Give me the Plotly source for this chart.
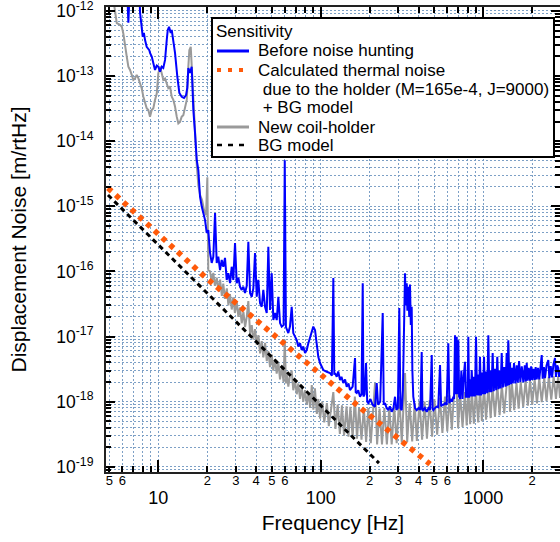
import plotly.graph_objects as go

# ---- measured spectra (read off the reference plot) ----
# "Before noise hunting" (blue)
blue_freq = [4.9, 6.4, 6.54, 6.7, 7.6, 7.72, 8.02, 8.15, 8.28, 8.48, 8.8, 8.89, 9.11, 9.32, 9.54, 9.78,
             10.0, 10.24, 10.49, 10.73, 11.0, 11.27, 11.43, 11.64, 11.92, 12.09, 12.37, 12.67, 13.09, 13.47,
             13.93, 14.39, 14.81, 15.08, 15.3, 15.67, 16.05, 16.43, 16.82, 17.24, 17.63, 18.06, 18.5, 18.92,
             19.38, 19.85, 20.3, 20.81, 21.31, 21.8, 22.34, 22.87, 23.4, 23.97, 24.56, 25.12, 25.73, 26.36,
             26.97, 27.63, 28.29, 28.94, 29.65, 30.37, 31.1, 31.84, 32.61, 33.36, 34.17, 35.0, 35.81, 36.68,
             37.57, 38.43, 39.37, 40.33, 41.25, 42.25, 43.28, 44.28, 45.37, 46.47, 47.54, 48.7, 49.88, 51.03,
             52.28, 53.55, 54.79, 56.12, 57.47, 59.0, 60.0, 61.0, 61.7, 63.1, 64.6, 66.2, 67.7, 69.4, 71.1,
             72.7, 74.5, 76.3, 78.0, 80.0, 81.9, 83.8, 85.8, 87.9, 89.9, 92.1, 94.4, 96.5, 98.9, 103.6, 108.7,
             113.9, 117.0, 119.4, 121.0, 122.3, 125.3, 128.0, 131.3, 134.0, 137.6, 141.0, 144.3, 148.0, 151.2,
             157.0, 162.4, 164.0, 166.4, 170.0, 174.3, 178.0, 181.1, 183.0, 186.0, 189.8, 193.0, 196.0, 202.0,
             208.0, 215.6, 220.8, 225.0, 232.0, 240.4, 244.0, 248.4, 254.0, 260.3, 266.0, 273.2, 280.0, 286.2,
             292.0, 298.0, 304.1, 309.0, 314.7, 320.0, 329.8, 333.0, 337.8, 341.0, 345.5, 350.0, 353.9, 358.0,
             362.5, 366.0, 370.8, 380.0, 389.1, 400.0, 410.0, 417.8, 422.0, 427.4, 437.0, 448.5, 460.0, 470.0,
             481.6, 487.0, 492.6, 505.0, 516.8, 528.0, 541.5, 550.0, 560.0, 570.0, 581.2, 595.0, 609.0, 618.0,
             630.0, 642.0, 653.9, 661.0, 669.8, 678.0, 686.0, 694.0, 702.0, 710.0, 720.0, 733.0, 745.0, 758.0,
             771.7, 781.0, 790.0, 800.0, 808.7, 818.0, 828.0, 838.0, 848.6, 862.0, 875.0, 888.0, 902.0, 915.0,
             928.0, 941.0, 954.0, 968.0, 982.0, 996.0, 1010.0, 1025.0, 1040.0, 1057.0, 1074.0, 1090.0, 1105.0,
             1122.0, 1142.0, 1160.0, 1180.0, 1200.0, 1219.0, 1240.0, 1258.0, 1278.0, 1298.0, 1320.0, 1345.0,
             1370.0, 1393.0, 1410.0, 1425.0, 1442.0, 1460.0, 1480.0, 1500.0, 1520.0, 1545.0, 1575.0, 1605.0,
             1630.0, 1660.0, 1690.0, 1725.0, 1763.0, 1800.0, 1825.0, 1850.0, 1875.0, 1905.0, 1939.0, 1970.0,
             2000.0, 2035.0, 2070.0, 2100.0, 2132.0, 2170.0, 2210.0, 2250.0, 2288.0, 2320.0, 2360.0, 2397.0,
             2450.0, 2512.0, 2550.0, 2600.0, 2650.0, 2700.0, 2762.0, 2800.0, 2850.0, 2894.0, 2930.0, 2965.0]
blue_asd = [3e-12, 3e-12, 6.6e-13, 3e-12, 3e-12, 9.4e-13, 4.0e-13, 4.6e-13, 3.6e-13, 2.8e-13, 2.5e-13, 2.26e-13,
            1.99e-13, 1.48e-13, 1.24e-13, 1.45e-13,
            1.39e-13, 1.17e-13, 1.39e-13, 1.33e-13, 1.77e-13, 3.6e-13, 5.1e-13, 5.7e-13, 4.6e-13, 5.1e-13,
            3.4e-13, 2.26e-13, 9.8e-14, 5.5e-14,
            4.8e-14, 4.6e-14, 5.1e-14, 6.6e-14, 1.33e-13, 1.12e-13, 1.39e-13, 3.0e-14, 1.34e-14, 5.1e-15,
            3.6e-15, 1.4e-15, 9.9e-16, 7.9e-16,
            6.2e-16, 3.9e-16, 4.3e-16, 1.92e-16, 1.35e-16, 1.68e-16, 7.9e-16, 1.35e-16, 1.68e-16, 1.05e-16,
            1.5e-16, 1.18e-16, 1.61e-16, 7.4e-17,
            9.4e-17, 6.6e-17, 1.18e-16, 7.4e-17, 2.73e-16, 6.6e-17, 8.0e-17, 5.8e-17, 5.2e-17, 5.8e-17,
            4.66e-17, 6.0e-17, 2.86e-16, 4.66e-17,
            4.08e-17, 5.5e-17, 1.92e-16, 4.08e-17, 7.4e-17, 3.27e-17, 2.87e-17, 5.2e-17, 2.87e-17, 2.3e-17,
            2.39e-16, 2.55e-17, 9.4e-17, 1.79e-17,
            2.3e-17, 1.79e-17, 4.08e-17, 1.61e-17, 1.42e-17, 1.5e-17, 5.1e-15, 1.4e-17, 1.26e-17, 1.13e-17,
            1.42e-17, 2.87e-17, 1.13e-17, 9.9e-18, 8.8e-18,
            7.0e-18, 7.9e-18, 6.2e-18, 7.0e-18, 5.6e-18, 6.2e-18, 7.9e-18, 9.9e-18, 1.26e-17, 1.42e-17,
            1.26e-17, 7.9e-18, 4.9e-18, 3.92e-18, 3.06e-18, 2.88e-18,
            2.75e-18, 2.5e-18, 7.9e-17, 2.6e-18, 2.75e-18, 2.41e-18, 2.9e-18, 2.15e-18, 2.4e-18, 1.93e-18,
            2.2e-18, 1.69e-18, 1.9e-18, 1.51e-18,
            1.7e-18, 4.68e-18, 1.4e-18, 1.36e-18, 1.5e-18, 1.19e-18, 1.3e-18, 6.6e-17, 1.2e-18, 1.3e-18,
            3.92e-18, 1.0e-18, 9.5e-19, 1.1e-18,
            9.0e-19, 8.4e-19, 1.93e-18, 9.0e-19, 1.0e-18, 2.3e-17, 9.0e-19, 9.5e-19, 8.0e-19, 7.4e-19, 8.5e-19,
            7.0e-19, 8.0e-19, 1.19e-18,
            7.5e-19, 8.0e-19, 2.74e-17, 8.0e-19, 7.4e-19, 1.5e-18, 9.4e-17, 3.0e-17, 6.6e-17, 2.5e-17, 5.8e-17,
            2.0e-17, 6.3e-17, 1.5e-17,
            2.87e-17, 3.0e-18, 1.19e-18, 8.0e-19, 7.4e-19, 8.0e-19, 7.5e-19, 5.8e-18, 7.5e-19, 7.4e-19, 8.0e-19,
            7.0e-19, 8.0e-19, 7.5e-19,
            5.2e-18, 7.8e-19, 7.4e-19, 8.0e-19, 8.4e-19, 8.2e-19, 3.65e-18, 8.5e-19, 9.0e-19, 9.0e-19, 9.5e-19,
            9.0e-19, 7.9e-18, 9.5e-19,
            1.1e-18, 1.0e-18, 1.19e-18, 1.1e-18, 1.05e-17, 1.3e-18, 9.9e-18, 1.3e-18, 8.8e-18, 1.2e-18, 1.1e-18,
            3.0e-18, 1.1e-18, 2.5e-18,
            4.1e-18, 1.15e-18, 1.5e-18, 1.15e-18, 9.9e-18, 1.15e-18, 2.2e-18, 1.2e-18, 3.06e-18, 1.2e-18,
            2.4e-18, 1.2e-18, 9.9e-18, 1.25e-18,
            2.6e-18, 1.25e-18, 4.9e-18, 1.25e-18, 2.8e-18, 1.3e-18, 4.9e-18, 1.3e-18, 2.9e-18, 1.35e-18,
            1.05e-17, 1.4e-18, 3.0e-18,
            1.4e-18, 5.6e-18, 1.45e-18, 3.2e-18, 1.5e-18, 4.9e-18, 1.55e-18, 3.0e-18, 1.6e-18, 5.6e-18, 1.65e-18,
            3.4e-18,
            1.7e-18, 5.6e-18, 1.75e-18, 8.8e-18, 1.8e-18, 4.0e-18, 1.85e-18, 3.3e-18, 1.9e-18, 3.9e-18, 1.9e-18,
            3.6e-18,
            1.95e-18, 4.2e-18, 2.0e-18, 3.5e-18, 2.0e-18, 3.6e-18, 2.05e-18, 3.92e-18, 2.1e-18, 3.3e-18, 2.1e-18,
            3.5e-18,
            2.15e-18, 3.2e-18, 2.15e-18, 3.4e-18, 2.2e-18, 3.3e-18, 2.2e-18, 3.4e-18, 5.2e-18, 2.25e-18, 3.4e-18,
            2.3e-18,
            3.6e-18, 4.35e-18, 2.3e-18, 3.5e-18, 2.35e-18, 3.7e-18, 4.68e-18, 2.4e-18, 3.6e-18, 3.28e-18, 2.4e-18,
            3.06e-18]

# "New coil-holder" (gray)
gray_freq = [5.2, 5.41, 5.55, 5.81, 5.96, 6.09, 6.24, 6.39, 6.54, 6.70, 6.86, 7.02, 7.19, 7.36, 7.53, 7.72,
             7.90, 8.09, 8.28, 8.48, 8.68, 8.89, 9.11, 9.32, 9.54, 9.78, 10.0, 10.24, 10.49, 10.73, 11.0, 11.27,
             11.52, 11.8, 12.09, 12.37, 12.67, 12.98, 13.28, 13.6, 13.93, 14.25, 14.6, 14.96, 15.3, 15.52, 15.83,
             16.05, 16.43, 16.82, 17.24, 17.63, 18.06, 18.58, 19.1, 19.66, 20.03, 20.3,
             20.81, 21.3, 21.8, 22.3, 22.9, 23.4, 24.0, 24.6, 25.1, 25.7, 26.4, 27.0, 27.6, 28.3, 28.9, 29.6,
             30.4, 31.1, 31.8, 32.6, 33.4, 34.2, 35.0, 35.8, 36.7, 37.6, 38.4, 39.4, 40.3, 41.3, 42.3, 43.3,
             44.3, 45.4, 46.5, 47.5, 48.7, 49.9, 51.0, 52.3, 53.5, 54.8, 56.1, 57.5, 59.0, 60.0, 61.0, 61.7,
             63.1, 64.6, 66.2, 67.7, 69.4, 71.1, 72.7, 74.5, 76.3, 78.0, 80.0, 82.0, 84.0, 86.0, 88.0, 90.0,
             92.0, 94.5, 96.5, 99.0, 102.0, 105.0, 109.0, 112.0, 116.0, 119.4, 123.0, 127.0, 131.0, 135.0,
             139.0, 144.0, 148.0, 152.0, 157.0, 162.0, 167.0, 172.0, 178.0, 184.0, 190.0, 196.0, 203.0, 210.0,
             215.6, 222.0, 230.0, 238.0, 246.0, 255.0, 264.0, 273.0, 283.0, 293.0, 304.0, 315.0, 330.0, 340.0,
             352.0, 365.0, 378.0, 390.0, 405.0, 420.0, 435.0, 450.0, 467.0, 484.0, 500.0, 520.0, 541.0, 560.0,
             581.0, 600.0, 620.0, 640.0, 660.0, 686.0, 700.0, 720.0, 745.0, 771.0, 790.0, 810.0, 830.0, 850.0,
             875.0, 900.0, 930.0, 955.0, 980.0, 1010.0, 1040.0, 1075.0, 1110.0, 1140.0, 1180.0, 1220.0, 1260.0,
             1300.0, 1345.0, 1393.0, 1425.0, 1460.0, 1500.0, 1550.0, 1600.0, 1650.0, 1700.0, 1760.0, 1820.0,
             1880.0, 1940.0, 2000.0, 2070.0, 2140.0, 2210.0, 2290.0, 2370.0, 2450.0, 2530.0, 2620.0, 2710.0,
             2800.0, 2890.0, 2965.0]
gray_asd = [2e-12, 9.4e-13, 6.5e-13, 6.1e-13, 5.7e-13, 4.5e-13, 3.2e-13, 2.0e-13, 1.39e-13, 1.24e-13, 1.04e-13,
            8.7e-14, 9.2e-14, 1.04e-13, 9.3e-14, 7.7e-14,
            6.5e-14, 4.8e-14, 3.8e-14, 3.2e-14, 3.0e-14, 2.38e-14, 3.0e-14, 3.2e-14, 4.3e-14, 5.4e-14, 1.10e-13,
            1.39e-13, 1.10e-13, 8.7e-14, 9.2e-14, 7.7e-14,
            6.5e-14, 6.9e-14, 4.8e-14, 4.3e-14, 3.4e-14, 2.38e-14, 1.88e-14, 1.98e-14, 2.38e-14, 2.5e-14, 3.4e-14,
            4.3e-14, 1.39e-13, 2.5e-13, 2.8e-13,
            1.39e-13, 3.0e-14, 1.04e-14, 4.3e-15, 2.1e-15, 1.5e-15, 1.25e-15, 8.8e-16, 7.3e-16, 2.8e-15, 1.05e-16,
            1.0e-16, 7.0e-17, 9.5e-17, 6.0e-17, 8.0e-17, 5.0e-17, 7.5e-17, 4.2e-17, 6.5e-17, 3.8e-17, 5.5e-17,
            3.0e-17, 4.5e-17, 2.6e-17, 4.0e-17, 2.3e-17,
            3.4e-17, 2.0e-17, 2.8e-17, 1.6e-17, 2.4e-17, 1.4e-17, 2.0e-17, 3.5e-17, 1.1e-17, 1.5e-17, 9.0e-18,
            1.3e-17, 7.5e-18, 1.05e-17, 5.5e-18, 8.5e-18,
            4.8e-18, 8.0e-18, 4.2e-18, 6.0e-18, 3.4e-18, 5.3e-18, 3.0e-18, 4.5e-18, 2.7e-18, 4.0e-18, 2.2e-18,
            3.4e-18, 2.0e-18, 9.0e-18, 1.9e-18, 2.8e-18,
            1.7e-18, 2.5e-18, 3.0e-18, 1.5e-18, 2.1e-18, 1.3e-18, 1.9e-18, 1.1e-18, 1.7e-18, 1.0e-18, 1.5e-18,
            9.0e-19, 1.4e-18, 8.0e-19, 1.8e-18, 7.5e-19,
            1.6e-18, 6.5e-19, 1.1e-18, 5.5e-19, 1.0e-18, 4.8e-19, 9.5e-19, 4.2e-19, 9.0e-19, 1.4e-18, 3.8e-19,
            9.0e-19, 3.2e-19, 8.8e-19,
            3.0e-19, 8.5e-19, 2.9e-19, 8.3e-19, 2.8e-19, 1.2e-18, 2.7e-19, 8.0e-19, 2.6e-19, 8.0e-19, 2.4e-19,
            8.0e-19, 2.3e-19, 7.8e-19,
            1.93e-18, 2.2e-19, 7.8e-19, 2.2e-19, 8.0e-19, 2.2e-19, 8.2e-19, 2.2e-19, 8.5e-19, 2.3e-19, 1.2e-18,
            2.35e-19, 2.75e-18, 2.4e-19,
            9.5e-19, 2.45e-19, 9.5e-19, 2.5e-19, 1.0e-18, 2.6e-19, 1.0e-18, 2.7e-19, 1.05e-18, 2.9e-19, 1.1e-18,
            3.1e-19, 1.15e-18, 3.3e-19,
            1.2e-18, 3.5e-19, 1.25e-18, 3.7e-19, 1.3e-18, 1.51e-18, 3.9e-19, 1.35e-18, 4.1e-19, 1.4e-18, 4.3e-19,
            1.45e-18, 4.5e-19, 1.5e-18,
            4.6e-19, 1.55e-18, 4.8e-19, 1.6e-18, 5.0e-19, 1.65e-18, 5.3e-19, 1.7e-18, 5.6e-19, 1.75e-18, 5.9e-19,
            1.78e-18, 6.2e-19,
            1.8e-18, 6.6e-19, 1.85e-18, 7.9e-18, 7.0e-19, 1.9e-18, 7.4e-19, 1.95e-18, 7.8e-19, 2.0e-18, 8.3e-19,
            2.1e-18,
            8.7e-19, 2.15e-18, 9.0e-19, 2.2e-18, 9.4e-19, 2.3e-18, 9.8e-19, 2.35e-18, 1.02e-18, 2.4e-18, 1.07e-18,
            2.45e-18,
            1.1e-18, 2.47e-18, 1.14e-18]

# calculated thermal noise of the holder + BG model (orange dotted)
thermal_freq = [4.9, 19.4, 74.5, 182.0, 470.0]
thermal_asd = [1.91e-15, 8.2e-17, 4.84e-18, 7.43e-19, 1.10e-19]

# BG model (black dashed)
bg_freq = [4.9, 228.0]
bg_asd = [1.49e-15, 1.14e-19]

# axis labelling
x_digit_vals = [5, 6, 20, 30, 40, 50, 60, 200, 300, 400, 500, 600, 2000, 3000]
x_digit_text = ["5", "6", "2", "3", "4", "5", "6", "2", "3", "4", "5", "6", "2", "3"]
x_decade_vals = [10, 100, 1000]
x_decade_text = ["10", "100", "1000"]
y_decade_vals = [1e-19, 1e-18, 1e-17, 1e-16, 1e-15, 1e-14, 1e-13, 1e-12]
y_decade_text = ["10<sup>-19</sup>", "10<sup>-18</sup>", "10<sup>-17</sup>", "10<sup>-16</sup>",
                 "10<sup>-15</sup>", "10<sup>-14</sup>", "10<sup>-13</sup>", "10<sup>-12</sup>"]

legend_title = "Sensitivity"
legend_labels = ["Before noise hunting",
                 "Calculated thermal noise",
                 "\u00a0due to the holder (M=165e-4, J=9000)",
                 "\u00a0+ BG model",
                 "New coil-holder",
                 "BG model"]

x_range = [0.678, 3.472]
y_range = [-19.08, -11.94]

x_minor = [k * 10 ** d for d in range(0, 4) for k in range(1, 10) if 4.8 <= k * 10 ** d <= 2965]
y_minor = [k * 10.0 ** e for e in range(-20, -11) for k in range(2, 10) if 8e-20 < k * 10.0 ** e < 1.2e-12]

grid_col = "rgb(125,160,198)"
frame_col = "#222222"
font_family = "Liberation Sans, Arial, sans-serif"
blue_col = "#0000ff"
gray_col = "#9a9a9a"
orange_col = "#ff5a0a"

fig = go.Figure()

fig.add_trace(go.Scatter(x=gray_freq, y=gray_asd, mode="lines",
                         line=dict(color=gray_col, width=2), name="New coil-holder"))
fig.add_trace(go.Scatter(x=blue_freq, y=blue_asd, mode="lines",
                         line=dict(color=blue_col, width=2), name="Before noise hunting"))
fig.add_trace(go.Scatter(x=bg_freq, y=bg_asd, mode="lines", xaxis="x2",
                         line=dict(color="black", width=3, dash="5px,4px"), name="BG model"))
fig.add_trace(go.Scatter(x=thermal_freq, y=thermal_asd, mode="lines",
                         line=dict(color=orange_col, width=5.5, dash="5px,5.5px"),
                         name="Calculated thermal noise + BG model"))

# legend box drawn by hand (Plotly's own legend spaces the rows too loosely)
plot_l, plot_r, plot_t, plot_b = 106, 560, 7, 472


def px(x):
    return (x - plot_l) / (plot_r - plot_l)


def py(y):
    return (plot_b - y) / (plot_b - plot_t)


shapes = [dict(type="rect", xref="paper", yref="paper",
               x0=px(212), x1=px(554), y0=py(157), y1=py(18),
               line=dict(color="black", width=2), fillcolor="white", layer="above")]
sample_styles = [(51, dict(color=blue_col, width=3)),
                 (70, dict(color=orange_col, width=4, dash="4px,7px")),
                 (127, dict(color=gray_col, width=3)),
                 (145, dict(color="black", width=2.5, dash="5px,6px"))]
for yy, ln in sample_styles:
    shapes.append(dict(type="line", xref="paper", yref="paper",
                       x0=px(217), x1=px(249), y0=py(yy), y1=py(yy), line=ln, layer="above"))

annotations = [dict(text=legend_title, xref="paper", yref="paper", x=px(214), y=py(31),
                    xanchor="left", yanchor="middle", showarrow=False, font=dict(size=17))]
for txt, xx, yy in zip(legend_labels, [256, 256, 256, 256, 256, 256], [51, 70, 89, 107, 127, 145]):
    annotations.append(dict(text=txt, xref="paper", yref="paper", x=px(xx), y=py(yy),
                            xanchor="left", yanchor="middle", showarrow=False, font=dict(size=17)))

fig.update_layout(
    width=560, height=542,
    margin=dict(l=plot_l, r=560 - plot_r, t=plot_t, b=542 - plot_b),
    paper_bgcolor="white", plot_bgcolor="white",
    font=dict(family=font_family, color="black"),
    showlegend=False,
    shapes=shapes,
    annotations=annotations,
    xaxis=dict(
        type="log", range=x_range, automargin=False,
        tickmode="array", tickvals=x_digit_vals, ticktext=x_digit_text,
        ticks="inside", ticklen=6, tickwidth=1.5, tickcolor="black",
        tickfont=dict(size=13), ticklabelstandoff=-5,
        showline=True, linewidth=2, linecolor=frame_col, mirror="ticks",
        showgrid=True, gridcolor=grid_col, griddash="2px,2px", gridwidth=1,
        minor=dict(tickmode="array", tickvals=x_minor, ticks="inside", ticklen=6,
                   tickcolor="black", showgrid=True, gridcolor=grid_col, griddash="2px,2px"),
        zeroline=False,
    ),
    xaxis2=dict(
        type="log", range=x_range, overlaying="x", anchor="y", side="bottom", automargin=False,
        tickmode="array", tickvals=x_decade_vals, ticktext=x_decade_text,
        ticks="inside", ticklen=12, tickwidth=1.5, tickcolor="black",
        tickfont=dict(size=18), ticklabelstandoff=8,
        showline=True, linewidth=2, linecolor=frame_col, mirror="ticks",
        showgrid=False, zeroline=False,
        title=dict(text="Frequency [Hz]", font=dict(size=21), standoff=9),
    ),
    yaxis=dict(
        type="log", range=y_range, automargin=False,
        tickmode="array", tickvals=y_decade_vals, ticktext=y_decade_text,
        ticks="inside", ticklen=9, tickwidth=1.5, tickcolor="black",
        tickfont=dict(size=17.5), ticklabelstandoff=7, ticklabeloverflow="allow",
        showline=True, linewidth=2, linecolor=frame_col, mirror="ticks",
        showgrid=True, gridcolor=grid_col, griddash="2px,2px", gridwidth=1,
        minor=dict(tickmode="array", tickvals=y_minor, ticks="inside", ticklen=5,
                   tickcolor="black", showgrid=True, gridcolor=grid_col, griddash="2px,2px"),
        zeroline=False,
        title=dict(text="Displacement Noise [m/rtHz]", font=dict(size=21), standoff=24),
    ),
)

# the page body has a default 8px margin; remove it so the figure fills the window
fig.write_html("out.html", config={"displayModeBar": False},
               post_script="document.body.style.margin = '0';")
